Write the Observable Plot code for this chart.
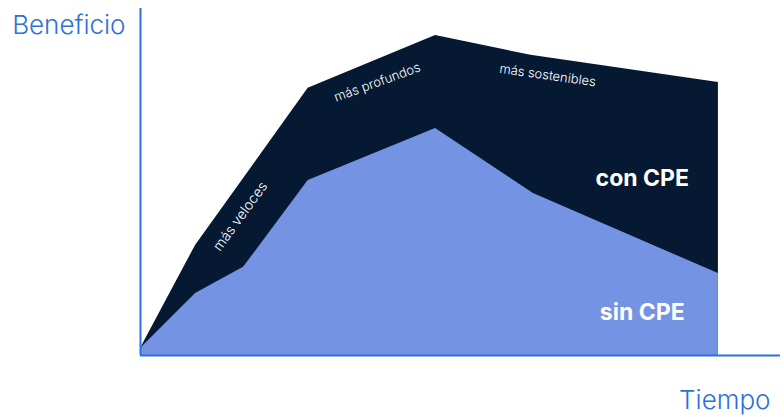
<!DOCTYPE html>
<html>
<head>
<meta charset="utf-8">
<script src="https://cdn.jsdelivr.net/npm/d3@7"></script>
<script src="https://cdn.jsdelivr.net/npm/@observablehq/plot@0.6"></script>
<style>
  html, body { margin: 0; padding: 0; background: #fff; }
  svg { display: block; }
</style>
</head>
<body>
<div id="chart"></div>
<script>
// Time positions (arbitrary units 0–100)
const tiempoCon = [0, 8.6, 26.2, 46.1, 61.0, 90.3];
const beneficioCon = [2, 31.7, 77.0, 92.2, 86.5, 78.7];
const tiempoSin = [0, 8.6, 16.1, 26.2, 46.1, 61.4, 90.3];
const beneficioSin = [2, 17.9, 25.4, 50.4, 65.4, 46.7, 23.6];

const seriesLabels = ["con CPE", "sin CPE"];
const seriesLabelX = [78.4, 78.4];
const seriesLabelY = [51.0, 12.4];

const bandLabels = ["más veloces", "más profundos", "más sostenibles"];
const bandLabelX = [15.6, 37.0, 63.6];
const bandLabelY = [40.1, 78.7, 80.7];
const bandLabelRotate = [-54, -20, 8];
const bandLabelSize = [14, 13, 13];

const axisTitles = ["Beneficio", "Tiempo"];

const con = tiempoCon.map((t, i) => ({t, v: beneficioCon[i]}));
const sin = tiempoSin.map((t, i) => ({t, v: beneficioSin[i]}));
const serieLbl = seriesLabels.map((s, i) => ({s, x: seriesLabelX[i], y: seriesLabelY[i]}));
const bandLbl = bandLabels.map((s, i) => ({s, x: bandLabelX[i], y: bandLabelY[i], r: bandLabelRotate[i], f: bandLabelSize[i]}));

const dark = "#051933";
const light = "#7493e2";
const blue = "#2f6fd9";
const font = "Inter, 'Noto Sans', sans-serif";

const chart = Plot.plot({
  width: 784,
  height: 417,
  marginLeft: 140,
  marginRight: 4,
  marginTop: 8,
  marginBottom: 62,
  x: {domain: [0, 100], axis: null},
  y: {domain: [0, 100], axis: null},
  style: {fontFamily: font, background: "#fff"},
  marks: [
    Plot.areaY(con, {x: "t", y: "v", fill: dark}),
    Plot.areaY(sin, {x: "t", y: "v", fill: light}),
    ...bandLbl.map(d => Plot.text([d], {
      x: "x", y: "y", text: "s", rotate: d.r,
      fill: "white", fontSize: d.f, fontWeight: 300
    })),
    Plot.text(serieLbl, {
      x: "x", y: "y", text: "s",
      fill: "white", fontSize: 23, fontWeight: 700
    }),
    Plot.ruleX([0], {y1: 0, y2: 100, stroke: blue, strokeWidth: 2}),
    Plot.ruleY([0], {stroke: blue, strokeWidth: 2}),
    Plot.text([axisTitles[0]], {
      frameAnchor: "top-left", textAnchor: "end", lineAnchor: "bottom",
      dx: -15, dy: 25, fill: blue, fontSize: 26, fontWeight: 300
    }),
    Plot.text([axisTitles[1]], {
      frameAnchor: "bottom-right", textAnchor: "end", lineAnchor: "bottom",
      dx: -10, dy: 53, fill: blue, fontSize: 26, fontWeight: 300
    })
  ]
});
document.getElementById("chart").appendChild(chart);
</script>
</body>
</html>
